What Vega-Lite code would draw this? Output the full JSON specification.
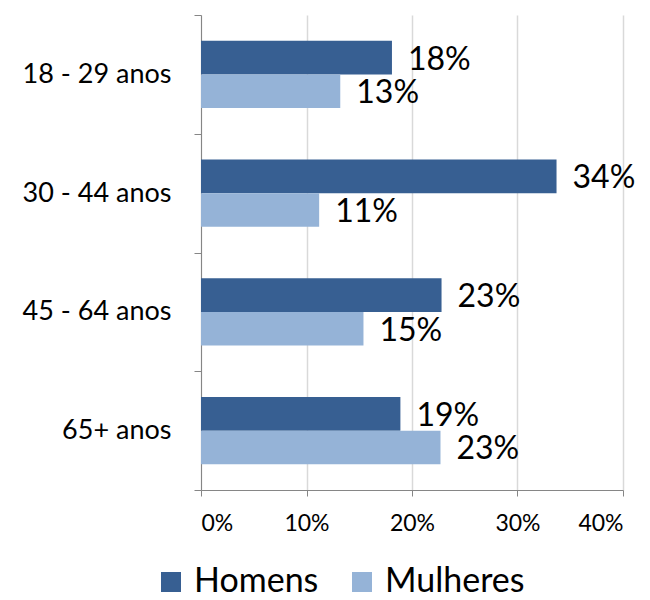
{
  "$schema": "https://vega.github.io/schema/vega-lite/v6.json",
  "autosize": "none",
  "width": 422,
  "height": 475,
  "padding": {"left": 201, "top": 15, "right": 27, "bottom": 110},
  "background": "white",
  "config": {"view": {"stroke": null}, "font": "Lato"},
  "data": {"values": [
    {"faixa": "18 - 29 anos", "sexo": "Homens", "valor": 0.181},
    {"faixa": "18 - 29 anos", "sexo": "Mulheres", "valor": 0.132},
    {"faixa": "30 - 44 anos", "sexo": "Homens", "valor": 0.337},
    {"faixa": "30 - 44 anos", "sexo": "Mulheres", "valor": 0.112},
    {"faixa": "45 - 64 anos", "sexo": "Homens", "valor": 0.228},
    {"faixa": "45 - 64 anos", "sexo": "Mulheres", "valor": 0.154},
    {"faixa": "65+ anos", "sexo": "Homens", "valor": 0.189},
    {"faixa": "65+ anos", "sexo": "Mulheres", "valor": 0.227}
  ]},
  "encoding": {
    "y": {"field": "faixa", "type": "nominal", "sort": null,
      "scale": {"paddingInner": 0, "paddingOuter": 0},
      "axis": {"title": null, "tickBand": "extent", "domainColor": "#868686", "tickColor": "#868686",
        "tickSize": 7, "labelFontSize": 27, "labelColor": "black", "labelPadding": 23, "grid": false}},
    "yOffset": {"field": "sexo", "type": "nominal", "sort": ["Homens", "Mulheres"],
      "scale": {"paddingInner": 0, "paddingOuter": 0.77}},
    "x": {"field": "valor", "type": "quantitative",
      "scale": {"domain": [0, 0.4]},
      "axis": {"title": null, "values": [0, 0.1, 0.2, 0.3, 0.4], "format": ".0%", "grid": true,
        "gridColor": "#D9D9D9", "gridWidth": 1.5, "domainColor": "#868686", "tickColor": "#868686", "tickSize": 6,
        "labelFontSize": 23, "labelColor": "black", "labelPadding": 16}}
  },
  "layer": [
    {"mark": {"type": "bar"},
     "encoding": {
       "color": {"field": "sexo", "type": "nominal", "sort": ["Homens", "Mulheres"],
         "scale": {"domain": ["Homens", "Mulheres"], "range": ["#375F92", "#95B3D7"]},
         "legend": {"title": null, "orient": "none", "direction": "horizontal", "legendX": -47, "legendY": 550,
           "symbolType": "square", "symbolSize": 400, "symbolStrokeWidth": 0, "labelFontSize": 34,
           "labelColor": "black", "columnPadding": 26, "labelOffset": 6}}
     }},
    {"mark": {"type": "text", "align": "left", "baseline": "middle", "dx": 16, "dy": 2, "fontSize": 32, "color": "black"},
     "encoding": {"text": {"field": "valor", "type": "quantitative", "format": ".0%"}}}
  ]
}
